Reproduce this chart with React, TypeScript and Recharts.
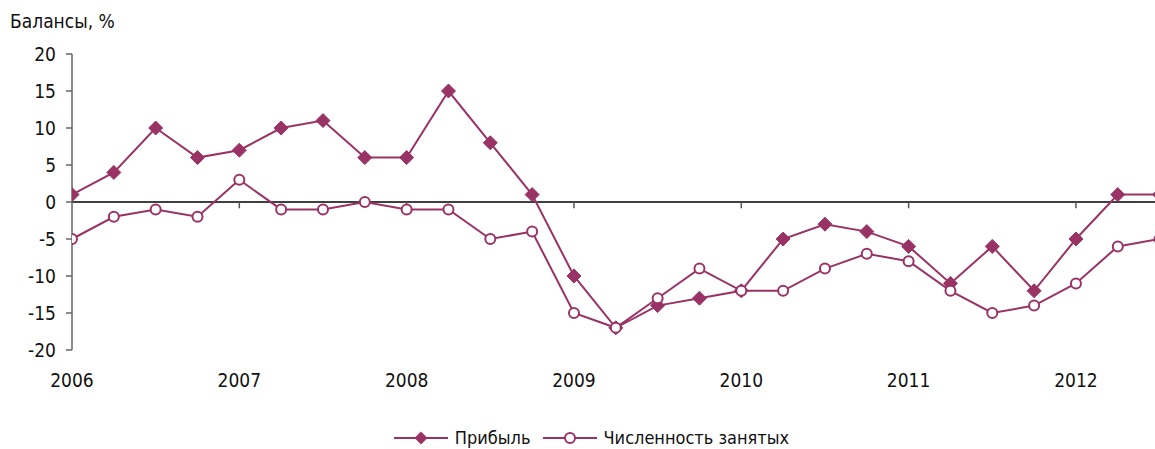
import { LineChart, Line, XAxis, YAxis, ReferenceLine } from 'recharts'

const years = ['2006', '2007', '2008', '2009', '2010', '2011', '2012']
const yTicks = [-20, -15, -10, -5, 0, 5, 10, 15, 20]

// quarterly balances, 2006 Q1 .. 2012 Q3
const profit = [1, 4, 10, 6, 7, 10, 11, 6, 6, 15, 8, 1, -10, -17, -14, -13, -12, -5, -3, -4, -6, -11, -6, -12, -5, 1, 1]
const employment = [-5, -2, -1, -2, 3, -1, -1, 0, -1, -1, -5, -4, -15, -17, -13, -9, -12, -12, -9, -7, -8, -12, -15, -14, -11, -6, -5]

const data = profit.map((p, i) => ({ q: i, profit: p, employment: employment[i] }))
const yearTicks = years.map((_, i) => i * 4)

const COLOR = '#993366'
const FONT = "'Liberation Sans Narrow', 'DejaVu Sans Condensed', sans-serif"

const Diamond = (props: any) => {
  const { cx, cy, key } = props
  if (cx == null || cy == null) return null
  const r = 7
  return (
    <polygon
      key={key}
      points={`${cx},${cy - r} ${cx + r},${cy} ${cx},${cy + r} ${cx - r},${cy}`}
      fill={COLOR}
      stroke={COLOR}
      strokeWidth={1}
    />
  )
}

const LegendItem = ({ label, marker }: { label: string; marker: 'diamond' | 'circle' }) => (
  <div style={{ display: 'flex', alignItems: 'center', marginRight: 12 }}>
    <svg width={54} height={16}>
      <line x1={0} y1={8} x2={54} y2={8} stroke={COLOR} strokeWidth={2} />
      {marker === 'diamond' ? (
        <polygon points="27,1.5 33.5,8 27,14.5 20.5,8" fill={COLOR} />
      ) : (
        <circle cx={27} cy={8} r={5} fill="#fff" stroke={COLOR} strokeWidth={2} />
      )}
    </svg>
    <span style={{ marginLeft: 7 }}>{label}</span>
  </div>
)

export default function App() {
  return (
    <div style={{ position: 'absolute', left: 0, top: 0, width: 1155, height: 449, background: '#fff', fontFamily: FONT, color: '#111' }}>
      <div style={{ position: 'absolute', left: 10, top: 12, fontSize: 19, lineHeight: 1 }}>Балансы, %</div>
      <LineChart width={1155} height={449} data={data} margin={{ top: 54, right: 0, left: 0, bottom: 59 }}>
        <XAxis
          dataKey="q"
          type="number"
          domain={[0, 25.89]}
          allowDataOverflow
          ticks={yearTicks}
          tickFormatter={(v) => years[v / 4]}
          axisLine={false}
          tickLine={false}
          tickSize={0}
          tickMargin={24}
          height={40}
          tick={{ fill: '#111', fontSize: 19, fontFamily: FONT }}
        />
        <YAxis
          domain={[-20, 20]}
          ticks={yTicks}
          width={72}
          interval={0}
          axisLine={{ stroke: '#666', strokeWidth: 1.5 }}
          tickLine={{ stroke: '#666', strokeWidth: 1.5 }}
          tickSize={6}
          tickMargin={10}
          tick={{ fill: '#111', fontSize: 19, fontFamily: FONT }}
        />
        <ReferenceLine y={0} stroke="#000" strokeWidth={1.5} />
        {yearTicks.slice(1).map((t) => (
          <ReferenceLine
            key={t}
            segment={[{ x: t, y: 0 }, { x: t, y: -0.85 }]}
            stroke="#555"
            strokeWidth={1.5}
          />
        ))}
        <Line
          dataKey="profit"
          stroke={COLOR}
          strokeWidth={2}
          dot={Diamond}
          isAnimationActive={false}
        />
        <Line
          dataKey="employment"
          stroke={COLOR}
          strokeWidth={2}
          dot={{ r: 5, fill: '#fff', stroke: COLOR, strokeWidth: 2 }}
          isAnimationActive={false}
        />
      </LineChart>
      <div
        style={{
          position: 'absolute',
          left: 0,
          width: 1155,
          top: 427,
          display: 'flex',
          justifyContent: 'center',
          fontSize: 18,
          lineHeight: '22px',
          paddingLeft: 40,
          boxSizing: 'border-box',
        }}
      >
        <LegendItem label="Прибыль" marker="diamond" />
        <LegendItem label="Численность занятых" marker="circle" />
      </div>
    </div>
  )
}
